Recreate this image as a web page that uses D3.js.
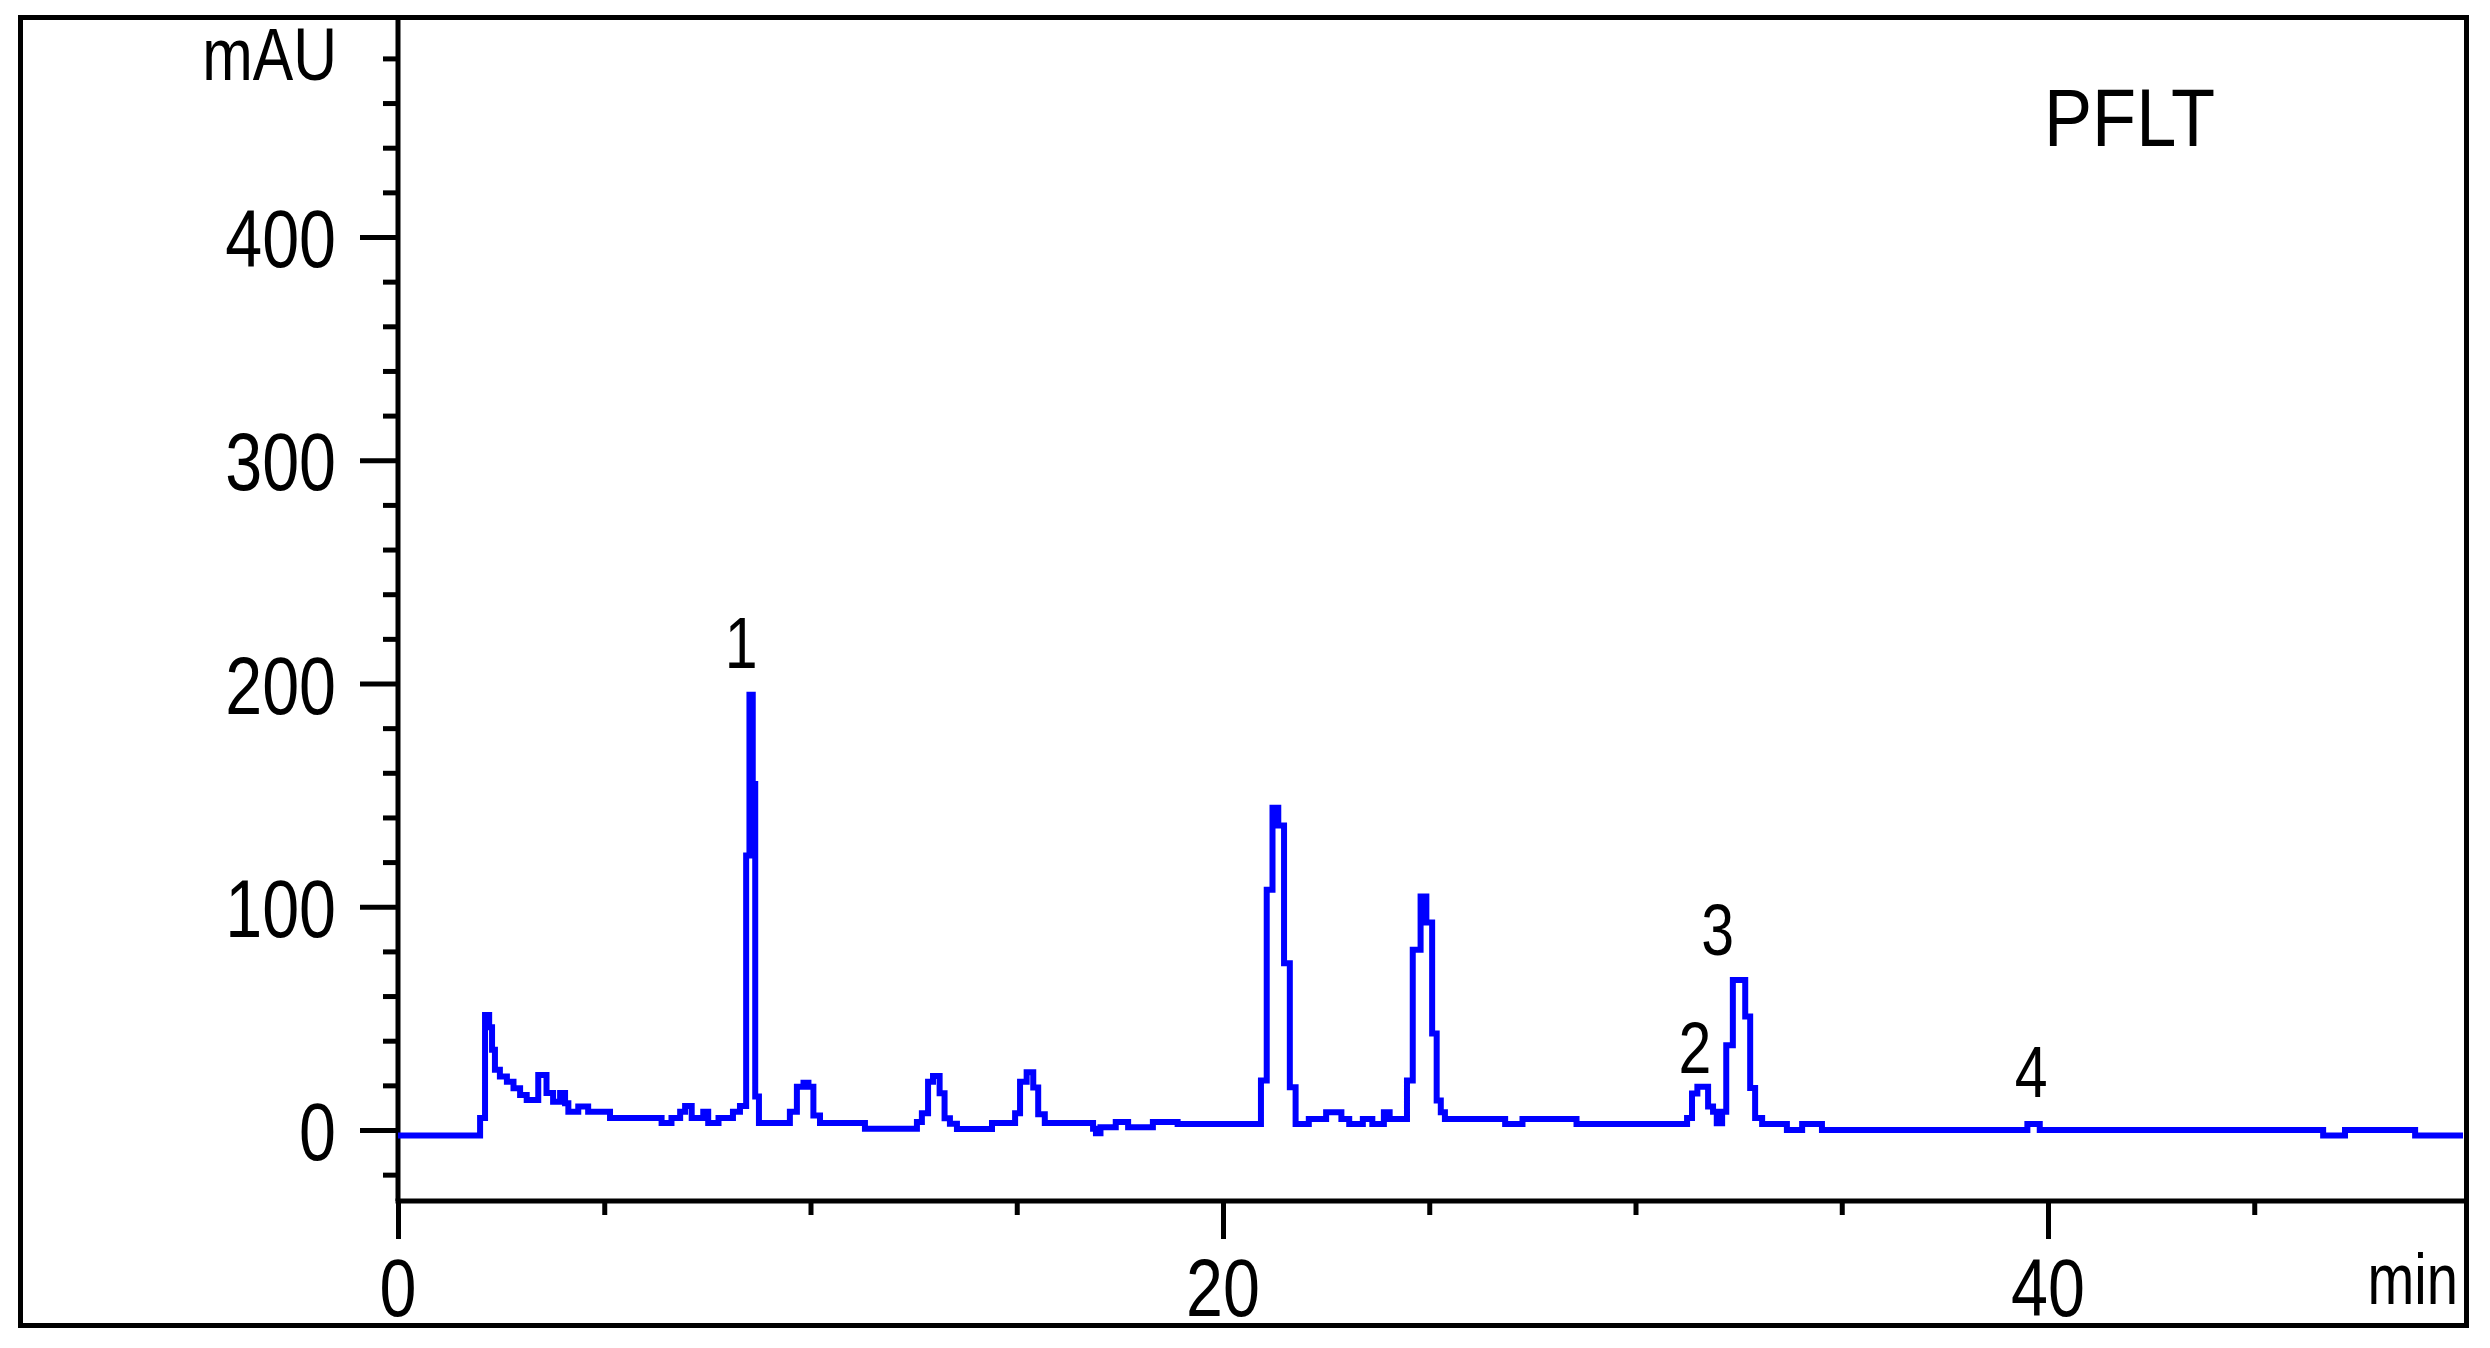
<!DOCTYPE html>
<html>
<head>
<meta charset="utf-8">
<script src="https://cdn.jsdelivr.net/npm/d3@7"></script>
<style>
body { margin: 0; background: #fff; }
text { font-family: "Liberation Sans", Arial, sans-serif; fill: #000; }
</style>
</head>
<body>
<svg id="chart" width="2490" height="1348"></svg>
<script>
// retention time (min) and absorbance (mAU), drawn as steps
var times = [0, 1.99, 2.11, 2.21, 2.28, 2.35, 2.47, 2.64, 2.80, 2.96, 3.12, 3.40, 3.60, 3.76, 3.93, 4.05, 4.13, 4.37, 4.61,
   5.14, 6.39, 6.63, 6.84, 6.96, 7.12, 7.40, 7.52, 7.77, 8.12, 8.29, 8.44, 8.52, 8.60, 8.66, 8.75,
   9.50, 9.67, 9.83, 9.95, 10.07, 10.23, 11.32, 12.58, 12.70, 12.85, 12.97, 13.13, 13.25, 13.38, 13.55,
   14.40, 14.96, 15.08, 15.24, 15.40, 15.52, 15.68, 16.85, 16.92, 17.03, 17.40, 17.70, 18.30, 18.90,
   20.92, 21.06, 21.20, 21.34, 21.48, 21.62, 21.76, 22.08, 22.50, 22.87, 23.06, 23.39, 23.62, 23.90, 24.04,
   24.46, 24.60, 24.79, 24.93, 25.07, 25.18, 25.28, 25.38, 26.84, 27.26, 28.57,
   31.25, 31.37, 31.50, 31.76, 31.88, 31.97, 32.10, 32.20, 32.36, 32.66, 32.78, 32.90, 33.07, 33.67,
   34.04, 34.52, 39.50, 39.80, 46.67, 47.20, 48.90, 50.06]
var absorbance = [-2.5, 5.4, 51.5, 46, 36, 27, 24, 21.6, 18.7, 15.7, 13.4, 24.6, 16.6, 12.7, 16.6, 12, 8.2, 10.5, 8.2,
   5.4, 3.1, 5.4, 8.2, 10.7, 5.4, 8.2, 3.1, 5.4, 8.2, 10.7, 123, 195, 155, 15, 3.1,
   8.2, 19.4, 21.2, 19.4, 6.5, 3.1, 0.6, 3.6, 7.5, 21.6, 24.2, 16.5, 5.3, 2.8, 0.4,
   3.1, 7.5, 21.6, 25.9, 19, 7, 3.1, 0.6, -1.5, 1.2, 3.6, 1.2, 3.6, 2.7,
   22.2, 107.6, 144.4, 136.4, 74.7, 19.2, 2.7, 4.9, 7.9, 4.9, 2.7, 4.9, 2.7, 7.9, 4.9,
   22.2, 80.7, 104.6, 93, 43.2, 13.2, 7.9, 4.9, 2.7, 4.9, 2.7,
   5.4, 16.4, 19.4, 10.5, 8.2, 3, 8.2, 38, 67.2, 50.8, 18.8, 5.4, 2.7, 0,
   2.7, 0, 2.7, 0, -2.5, 0, -2.5, -2.5]

var peakNames = ["1", "2", "3", "4"]
var peakTimes = [8.32, 31.44, 31.99, 39.59]
var peakLabelLevels = [207, 25.5, 78.4, 14.8]

var xMajorTicks = [0, 20, 40]
var xMinorTicks = [5, 10, 15, 25, 30, 35, 45]
var yMajorTicks = [0, 100, 200, 300, 400]
var yMinorTicks = [-20, 20, 40, 60, 80, 120, 140, 160, 180, 220, 240, 260, 280, 320, 340, 360, 380, 420, 440, 460, 480]

var yUnit = "mAU"
var xUnit = "min"
var sampleName = "PFLT"

var svg = d3.select("#chart")
var blue = "#0000ff"

var xScale = d3.scaleLinear().domain([0, 40]).range([398, 2048])
var yScale = d3.scaleLinear().domain([0, 400]).range([1130, 237])

var frame = {left: 20.5, top: 17.5, right: 2466.5, bottom: 1325.5}
var axisY = 1201

// outer frame
svg.append("rect")
   .attr("x", frame.left)
   .attr("y", frame.top)
   .attr("width", frame.right - frame.left)
   .attr("height", frame.bottom - frame.top)
   .attr("fill", "none")
   .attr("stroke", "#000")
   .attr("stroke-width", 5)

// y axis ticks
function yTicks(values, size) {
   var g = svg.append("g")
      .attr("transform", "translate(" + xScale(0) + ",0)")
      .call(d3.axisLeft(yScale).tickValues(values).tickSize(size).tickFormat(""))
   g.select(".domain").remove()
   g.selectAll("line").attr("stroke", "#000").attr("stroke-width", 5)
}
yTicks(yMajorTicks, 38)
yTicks(yMinorTicks, 15)

// x axis ticks
function xTicks(values, size) {
   var g = svg.append("g")
      .attr("transform", "translate(0," + axisY + ")")
      .call(d3.axisBottom(xScale).tickValues(values).tickSize(size).tickFormat(""))
   g.select(".domain").remove()
   g.selectAll("line").attr("stroke", "#000").attr("stroke-width", 5)
}
xTicks(xMajorTicks, 38)
xTicks(xMinorTicks, 14)

// axis lines
svg.append("line")
   .attr("x1", xScale(0)).attr("x2", xScale(0))
   .attr("y1", frame.top).attr("y2", axisY)
   .attr("stroke", "#000").attr("stroke-width", 5)
svg.append("line")
   .attr("x1", xScale(0) - 2.5).attr("x2", frame.right)
   .attr("y1", axisY).attr("y2", axisY)
   .attr("stroke", "#000").attr("stroke-width", 5)

// labels, squeezed to look like the narrow instrument font
function label(text, x, y, size, anchor, squeeze) {
   svg.append("text")
      .attr("transform", "translate(" + x + "," + y + ") scale(" + squeeze + ",1)")
      .attr("text-anchor", anchor)
      .style("font-size", size + "px")
      .text(text)
}

yMajorTicks.forEach(function(d) { label(d, 336, yScale(d) + 30, 81, "end", 0.82) })
xMajorTicks.forEach(function(d) { label(d, xScale(d), 1316, 81, "middle", 0.82) })
label(yUnit, 337, 80, 74, "end", 0.82)
label(xUnit, 2458, 1304, 72, "end", 0.78)
label(sampleName, 2044, 146, 82, "start", 0.88)

peakNames.forEach(function(d, i) {
   label(d, xScale(peakTimes[i]), yScale(peakLabelLevels[i]), 72, "middle", 0.82)
})

// chromatogram trace
var points = times.map(function(t, i) { return [t, absorbance[i]] })
var line = d3.line()
   .x(d => xScale(d[0]))
   .y(d => yScale(d[1]))
   .curve(d3.curveStepAfter)

svg.append("path")
   .datum(points)
   .attr("d", line)
   .attr("fill", "none")
   .attr("stroke", blue)
   .attr("stroke-width", 6)
   .attr("stroke-linejoin", "miter")
</script>
</body>
</html>
